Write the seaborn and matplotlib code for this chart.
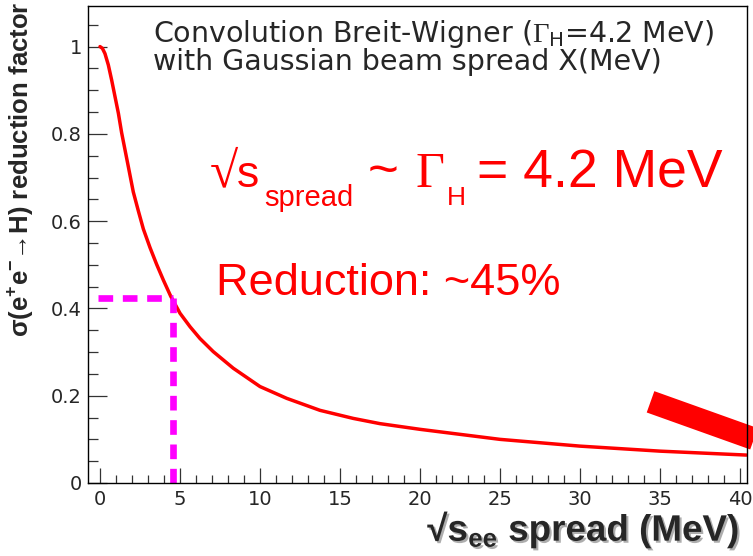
import matplotlib
matplotlib.use('Agg')
import matplotlib.pyplot as plt
import matplotlib.patheffects as pe
from matplotlib.ticker import MultipleLocator, FuncFormatter
import seaborn as sns
import pandas as pd

# Curva: fator de redução vs spread do feixe (MeV)
spread_mev = [0, 0.15, 0.31, 0.52, 0.73, 0.94, 1.15, 1.35, 1.56, 1.77, 2.08, 2.40, 2.71,
              3.13, 3.54, 3.96, 4.42, 5.0, 5.63, 6.25, 7.08, 8.33, 10.0, 11.67,
              13.75, 15.83, 17.5, 20.0, 25.0, 30.0, 35.0, 40.4]
reduction = [1.0, 0.996, 0.984, 0.958, 0.923, 0.885, 0.847, 0.803, 0.764, 0.725, 0.667, 0.623, 0.582,
             0.539, 0.501, 0.465, 0.428, 0.389, 0.358, 0.331, 0.301, 0.263, 0.221, 0.194,
             0.1665, 0.148, 0.136, 0.123, 0.100, 0.0845, 0.073, 0.064]

# Ponto marcado pelas linhas tracejadas
mark_x = 4.58
mark_y = 0.423
mark_xmin = -0.15

# Seta vermelha grossa no canto direito
arrow_x = [34.41, 42.5]
arrow_y = [0.186, 0.080]

x_ticks = [0, 5, 10, 15, 20, 25, 30, 35, 40]
y_ticks = [0, 0.2, 0.4, 0.6, 0.8, 1.0]

df = pd.DataFrame({'spread': spread_mev, 'red': reduction})

sns.set_style('ticks')
plt.rcParams['font.family'] = ['DejaVu Sans']
plt.rcParams['mathtext.fontset'] = 'custom'
plt.rcParams['mathtext.sf'] = 'Liberation Serif'

W, H = 753, 556
fig = plt.figure(figsize=(W / 100, H / 100), dpi=100)
ax = fig.add_axes([88 / W, 1 - 483 / H, (747 - 88) / W, (483 - 6) / H])


def fxy(px, py):
    return px / W, 1 - py / H


sns.lineplot(data=df, x='spread', y='red', color='red', lw=2.5, ax=ax)

ax.hlines(mark_y, mark_xmin, mark_x, colors='#ff00ff', lw=4.8, linestyles=(0, (2.2, 1.45)))
ax.vlines(mark_x, 0, mark_y, colors='#ff00ff', lw=4.8, linestyles=(0, (2.2, 1.45)))

ax.plot(arrow_x, arrow_y, color='red', lw=16.3, solid_capstyle='butt', clip_on=False)

ax.set_xlim(-0.75, 40.44)
ax.set_ylim(0, 1.093)
ax.set_xticks(x_ticks)
ax.set_yticks(y_ticks)
ax.xaxis.set_minor_locator(MultipleLocator(1))
ax.yaxis.set_minor_locator(MultipleLocator(0.05))
ax.yaxis.set_major_formatter(FuncFormatter(lambda v, p: '%g' % v))
ax.tick_params(axis='both', which='both', direction='in', color='#333333', width=0.9,
               labelsize=14, top=False, right=False)
ax.tick_params(axis='y', which='major', length=13.7, pad=4.3)
ax.tick_params(axis='y', which='minor', length=7)
ax.tick_params(axis='x', which='major', length=11, pad=5)
ax.tick_params(axis='x', which='minor', length=5.5)
for s in ax.spines.values():
    s.set_visible(True)
    s.set_color('black')
    s.set_linewidth(1)

ax.set_ylabel('σ(e$^{\\mathregular{+}}$e$^{\\mathregular{-}}$→H) reduction factor',
              fontsize=18.5, fontweight='bold', family=['Liberation Sans', 'DejaVu Sans'], va='center')
ax.yaxis.set_label_coords((20 - 88) / 659, (483 - 169) / 477)

ax.set_xlabel('√s$_{\\mathregular{ee}}$ spread (MeV)', fontsize=26.5, fontweight='bold',
              family=['Liberation Sans', 'DejaVu Sans'], ha='right', va='baseline',
              path_effects=[pe.withSimplePatchShadow(offset=(1.5, -1.5), shadow_rgbFace='#777777', alpha=0.6)])
ax.xaxis.set_label_coords((739 - 88) / 659, (483 - 541) / 477)

# Legenda do topo
fig.text(*fxy(153, 41.7), 'Convolution Breit-Wigner ($\\mathsf{\\Gamma}_{\\mathregular{H}}$=4.2 MeV)',
         fontsize=20.5, va='baseline')
fig.text(*fxy(153, 70), 'with Gaussian beam spread X(MeV)', fontsize=20.5, va='baseline')

# Texto grande em vermelho
sans = ['Liberation Sans', 'DejaVu Sans']
serif = ['Liberation Serif', 'DejaVu Serif']
fig.text(*fxy(210, 186.7), '√', fontsize=37, color='red', family=serif, va='baseline')
fig.text(*fxy(236.5, 186.7), 's', fontsize=32, color='red', family=sans, va='baseline')
fig.text(*fxy(264, 206), 'spread', fontsize=21, color='red', family=sans, va='baseline')
fig.text(*fxy(368, 186.7), '~', fontsize=38, color='red', family=sans, va='baseline')
fig.text(*fxy(416, 186.7), 'Γ', fontsize=36, color='red', family=serif, va='baseline')
fig.text(*fxy(447, 205), 'H', fontsize=19, color='red', family=sans, va='baseline')
fig.text(*fxy(477, 188), '= 4.2 MeV', fontsize=38.5, color='red', family=sans, va='baseline')
fig.text(*fxy(216, 295), 'Reduction: ~45%', fontsize=32.5, color='red', family=sans, va='baseline')

fig.savefig('out.png', dpi=100)
